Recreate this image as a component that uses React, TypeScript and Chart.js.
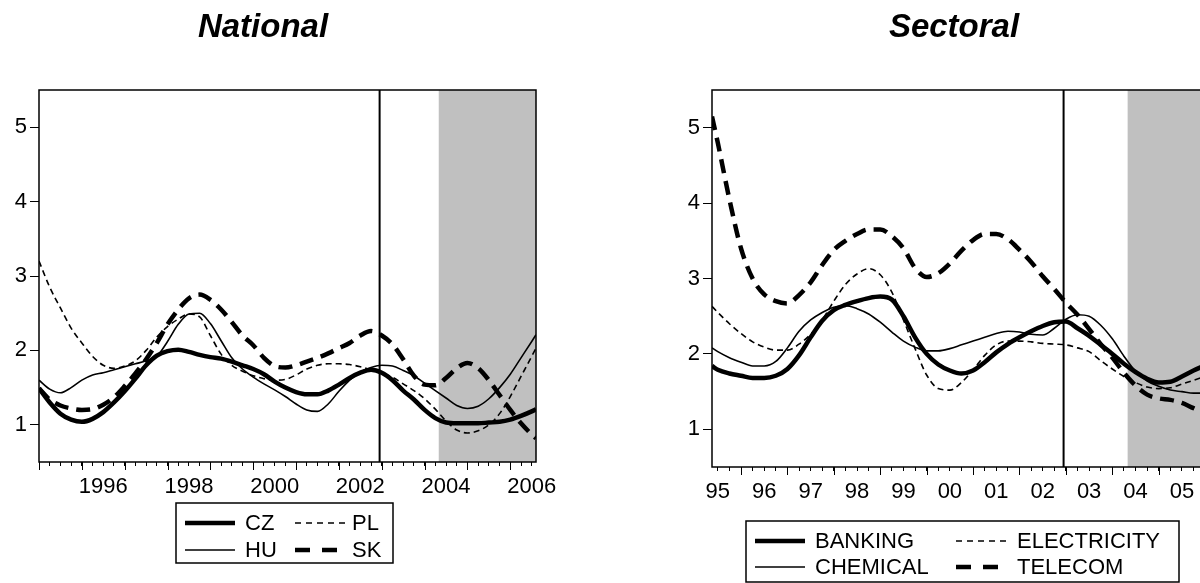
import { useEffect, useRef } from "react";
import { Chart, registerables } from "chart.js";

Chart.register(...registerables);

const FONT = "Arial, 'Liberation Sans', sans-serif";

// National panel: quarterly observations 1995-2006
const nationalYears = [
  1995, 1995.25, 1995.5, 1995.75, 1996, 1996.25, 1996.5, 1996.75,
  1997, 1997.25, 1997.5, 1997.75, 1998, 1998.25, 1998.5, 1998.75,
  1999, 1999.25, 1999.5, 1999.75, 2000, 2000.25, 2000.5, 2000.75,
  2001, 2001.25, 2001.5, 2001.75, 2002, 2002.25, 2002.5, 2002.75,
  2003, 2003.25, 2003.5, 2003.75, 2004, 2004.25, 2004.5, 2004.75,
  2005, 2005.25, 2005.5, 2005.75, 2006, 2006.25, 2006.5, 2006.6,
];
const cz = [
  1.49, 1.3, 1.15, 1.07, 1.04, 1.08, 1.17, 1.3,
  1.45, 1.62, 1.8, 1.93, 1.99, 2.01, 1.98, 1.94,
  1.91, 1.89, 1.85, 1.8, 1.75, 1.68, 1.58, 1.5,
  1.44, 1.41, 1.41, 1.46, 1.54, 1.63, 1.7, 1.74,
  1.7, 1.6, 1.46, 1.34, 1.2, 1.09, 1.03, 1.02,
  1.02, 1.02, 1.03, 1.04, 1.07, 1.12, 1.18, 1.21,
];
const hu = [
  1.6, 1.48, 1.43, 1.5, 1.6, 1.67, 1.7, 1.74,
  1.78, 1.82, 1.86, 1.92, 2.12, 2.35, 2.49, 2.5,
  2.36, 2.13, 1.9, 1.75, 1.64, 1.55, 1.47, 1.38,
  1.28, 1.2, 1.18, 1.28, 1.45, 1.6, 1.71, 1.77,
  1.8, 1.79, 1.73, 1.66, 1.56, 1.46, 1.36, 1.26,
  1.22, 1.25, 1.35, 1.5, 1.68, 1.9, 2.12, 2.21,
];
const pl = [
  3.2, 2.85, 2.57, 2.3, 2.1, 1.92, 1.8, 1.76,
  1.79, 1.86, 2.0, 2.18, 2.32, 2.42, 2.49, 2.45,
  2.2, 1.95, 1.8, 1.72, 1.66, 1.62, 1.6, 1.61,
  1.67, 1.75, 1.8, 1.82, 1.82, 1.81, 1.78, 1.74,
  1.7, 1.64, 1.55, 1.46, 1.35, 1.21, 1.05, 0.93,
  0.89, 0.92, 1.0, 1.15, 1.38, 1.65, 1.92, 2.03,
];
const sk = [
  1.49, 1.34, 1.26, 1.22, 1.2, 1.21, 1.27, 1.37,
  1.52, 1.69, 1.88, 2.1, 2.35, 2.55, 2.7, 2.75,
  2.68, 2.55, 2.38, 2.2, 2.07, 1.9, 1.79, 1.77,
  1.8, 1.85, 1.9, 1.96, 2.03, 2.1, 2.2, 2.26,
  2.2, 2.08, 1.88, 1.66, 1.54, 1.53, 1.63, 1.76,
  1.83, 1.76, 1.6, 1.4, 1.2, 1.02, 0.87, 0.82,
];
const nationalNames = ["CZ", "HU", "PL", "SK"];
const nationalLabelYears = [1996, 1998, 2000, 2002, 2004, 2006];
const nationalLabels = ["1996", "1998", "2000", "2002", "2004", "2006"];

// Sectoral panel
const sectoralYears = [
  1995.375, 1995.5, 1995.75, 1996, 1996.25, 1996.5, 1996.75,
  1997, 1997.25, 1997.5, 1997.75, 1998, 1998.25, 1998.5, 1998.75,
  1999, 1999.25, 1999.5, 1999.75, 2000, 2000.25, 2000.5, 2000.75,
  2001, 2001.25, 2001.5, 2001.75, 2002, 2002.25, 2002.5, 2002.75,
  2003, 2003.25, 2003.5, 2003.75, 2004, 2004.25, 2004.5, 2004.75,
  2005, 2005.25, 2005.5, 2005.75, 2006, 2006.25, 2006.5, 2006.6,
];
const banking = [
  1.84, 1.79, 1.74, 1.71, 1.68, 1.68, 1.71,
  1.8, 1.98, 2.22, 2.44, 2.58, 2.65, 2.7, 2.74,
  2.76, 2.72, 2.5, 2.22, 2.0, 1.86, 1.78, 1.74,
  1.78, 1.89, 2.02, 2.13, 2.22, 2.3, 2.37, 2.42,
  2.43, 2.34, 2.24, 2.12, 2.0, 1.87, 1.76, 1.67,
  1.62, 1.63, 1.7, 1.78, 1.85, 1.93, 2.0, 2.03,
];
const chemical = [
  2.08, 2.03, 1.95, 1.89, 1.84, 1.84, 1.9,
  2.08, 2.3, 2.45, 2.55, 2.62, 2.64, 2.6, 2.53,
  2.42, 2.29, 2.17, 2.09, 2.04, 2.04, 2.07, 2.12,
  2.17, 2.22, 2.27, 2.3, 2.29, 2.26, 2.25, 2.34,
  2.46, 2.52, 2.5, 2.38, 2.2, 1.97, 1.77, 1.64,
  1.57, 1.52, 1.5, 1.48, 1.48, 1.5, 1.53, 1.54,
];
const electricity = [
  2.63, 2.55, 2.4, 2.27, 2.16, 2.09, 2.05,
  2.05, 2.13, 2.26, 2.45, 2.7, 2.92, 3.06, 3.13,
  3.05, 2.82, 2.45, 2.07, 1.72, 1.54, 1.52, 1.62,
  1.79, 1.98, 2.12, 2.17, 2.17, 2.16, 2.14, 2.13,
  2.12, 2.08, 2.03, 1.91, 1.8, 1.7, 1.62, 1.56,
  1.54, 1.55, 1.6, 1.65, 1.7, 1.74, 1.78, 1.8,
];
const telecom = [
  5.15, 4.8, 4.05, 3.4, 3.0, 2.79, 2.7,
  2.67, 2.78, 2.95, 3.18, 3.38, 3.5, 3.59, 3.65,
  3.65, 3.56, 3.4, 3.14, 3.02, 3.07, 3.2, 3.37,
  3.51, 3.59, 3.59, 3.52, 3.38, 3.22, 3.03, 2.86,
  2.68, 2.52, 2.33, 2.13, 1.95, 1.75, 1.58, 1.46,
  1.41, 1.39, 1.35, 1.28, 1.22, 1.16, 1.1, 1.08,
];
const sectoralNames = ["BANKING", "CHEMICAL", "ELECTRICITY", "TELECOM"];
const sectoralLabelYears = [1995, 1996, 1997, 1998, 1999, 2000, 2001, 2002, 2003, 2004, 2005, 2006];
const sectoralLabels = ["95", "96", "97", "98", "99", "00", "01", "02", "03", "04", "05", "06"];

const yTicks = [1, 2, 3, 4, 5];
const breakYear = 2002.95;
const shadeFrom = 2004.33;

// thick solid, thin solid, thin dashed, thick dashed
const lineStyles = [
  { width: 4.5, dash: [] as number[], legendDash: [] as number[], legendLen: 50 },
  { width: 1.6, dash: [] as number[], legendDash: [] as number[], legendLen: 50 },
  { width: 1.6, dash: [6, 4], legendDash: [6, 5], legendLen: 50 },
  { width: 4.5, dash: [14, 8], legendDash: [15, 12], legendLen: 42 },
];

const decorPlugin = {
  id: "decor",
  beforeDatasetsDraw(chart: any, _args: any, opts: any) {
    const { ctx, chartArea: a } = chart;
    const x = chart.scales.x;
    ctx.save();
    const s0 = x.getPixelForValue(opts.shadeFrom);
    ctx.fillStyle = "#c0c0c0";
    ctx.fillRect(s0, a.top, a.right - s0, a.bottom - a.top);
    const v = x.getPixelForValue(opts.breakAt);
    ctx.strokeStyle = "#000";
    ctx.lineWidth = 2;
    ctx.beginPath();
    ctx.moveTo(v, a.top);
    ctx.lineTo(v, a.bottom);
    ctx.stroke();
    ctx.restore();
  },
  afterDraw(chart: any, _args: any, opts: any) {
    const { ctx, chartArea: a } = chart;
    const x = chart.scales.x;
    ctx.save();
    ctx.strokeStyle = "#000";
    ctx.lineWidth = 1.5;
    ctx.strokeRect(a.left, a.top, a.right - a.left, a.bottom - a.top);

    // longer marks at the start of each year
    ctx.lineWidth = 1;
    for (let yr = Math.ceil(x.min); yr <= x.max; yr++) {
      const px = Math.round(x.getPixelForValue(yr)) + 0.5;
      ctx.beginPath();
      ctx.moveTo(px, a.bottom);
      ctx.lineTo(px, a.bottom + 8);
      ctx.stroke();
    }

    ctx.fillStyle = "#000";
    ctx.font = `italic bold 33px ${FONT}`;
    ctx.textAlign = "center";
    ctx.textBaseline = "alphabetic";
    ctx.fillText(opts.title, opts.titleX, 37);

    const lg = opts.legend;
    ctx.lineWidth = 1.5;
    ctx.strokeRect(lg.x, lg.y, lg.w, lg.h);
    ctx.font = `22px ${FONT}`;
    ctx.textAlign = "left";
    ctx.textBaseline = "middle";
    chart.data.datasets.forEach((ds: any, i: number) => {
      const col = Math.floor(i / 2);
      const row = i % 2;
      const st = lineStyles[i];
      const y = lg.rows[row];
      ctx.lineWidth = st.width;
      ctx.setLineDash(st.legendDash);
      ctx.beginPath();
      ctx.moveTo(lg.sampleX[col], y);
      ctx.lineTo(lg.sampleX[col] + st.legendLen, y);
      ctx.stroke();
      ctx.setLineDash([]);
      ctx.fillText(ds.label, lg.textX[col], y + 1);
    });
    ctx.restore();
  },
};

type PanelProps = {
  names: string[];
  years: number[];
  series: number[][];
  labelYears: number[];
  labels: string[];
  xMin: number;
  xMax: number;
  width: number;
  left: number;
  padding: { left: number; right: number; top: number; bottom: number };
  title: string;
  titleX: number;
  legend: any;
};

function Panel(p: PanelProps) {
  const canvasRef = useRef<HTMLCanvasElement | null>(null);

  useEffect(() => {
    if (!canvasRef.current) return;
    const quarters: number[] = [];
    for (let q = Math.ceil(p.xMin * 4); q <= Math.floor(p.xMax * 4); q++) quarters.push(q / 4);

    const chart = new Chart(canvasRef.current, {
      type: "line",
      data: {
        datasets: p.names.map((name, i) => ({
          label: name,
          data: p.years.map((yr, j) => ({ x: yr, y: p.series[i][j] })),
          borderColor: "#000",
          borderWidth: lineStyles[i].width,
          borderDash: lineStyles[i].dash,
          borderCapStyle: "butt",
          pointRadius: 0,
          cubicInterpolationMode: "monotone",
          fill: false,
        })),
      },
      options: {
        animation: false,
        responsive: false,
        events: [],
        layout: { padding: p.padding },
        plugins: {
          legend: { display: false },
          tooltip: { enabled: false },
          decor: {
            title: p.title,
            titleX: p.titleX,
            legend: p.legend,
            breakAt: breakYear,
            shadeFrom: shadeFrom,
          },
        } as any,
        scales: {
          x: {
            type: "linear",
            min: p.xMin,
            max: p.xMax,
            afterBuildTicks: (s: any) => {
              s.ticks = quarters.map((v) => ({ value: v }));
            },
            afterFit: (s: any) => {
              s.height = 40;
            },
            grid: { drawOnChartArea: false, tickLength: 4, color: "#000", lineWidth: 1 },
            border: { display: false },
            ticks: {
              autoSkip: false,
              maxRotation: 0,
              minRotation: 0,
              padding: 8,
              color: "#000",
              font: { family: FONT, size: 22 },
              callback: (v: any) => {
                const i = p.labelYears.indexOf(Number(v) - 0.5);
                return i >= 0 ? p.labels[i] : "";
              },
            },
          },
          y: {
            min: 0.5,
            max: 5.5,
            afterBuildTicks: (s: any) => {
              s.ticks = yTicks.map((v) => ({ value: v }));
            },
            afterFit: (s: any) => {
              s.width = 30;
            },
            grid: { drawOnChartArea: false, tickLength: 9, color: "#000", lineWidth: 1 },
            border: { display: false },
            ticks: {
              padding: 3,
              color: "#000",
              font: { family: FONT, size: 22 },
            },
          },
        },
      },
      plugins: [decorPlugin],
    });

    return () => {
      chart.destroy();
    };
  }, []);

  return (
    <canvas
      ref={canvasRef}
      width={p.width}
      height={583}
      style={{ position: "absolute", left: p.left, top: 0 }}
    />
  );
}

export default function App() {
  useEffect(() => {
    document.body.style.margin = "0";
    document.body.style.overflow = "hidden";
  }, []);

  return (
    <div style={{ position: "relative", width: 1200, height: 583, overflow: "hidden", background: "#fff" }}>
      <Panel
        names={nationalNames}
        years={nationalYears}
        series={[cz, hu, pl, sk]}
        labelYears={nationalLabelYears}
        labels={nationalLabels}
        xMin={1995}
        xMax={2006.6}
        width={600}
        left={0}
        padding={{ left: 9, right: 64, top: 90, bottom: 81 }}
        title="National"
        titleX={263}
        legend={{ x: 176, y: 503, w: 217, h: 60, rows: [523, 550], sampleX: [185, 295], textX: [245, 352] }}
      />
      <Panel
        names={sectoralNames}
        years={sectoralYears}
        series={[banking, chemical, electricity, telecom]}
        labelYears={sectoralLabelYears}
        labels={sectoralLabels}
        xMin={1995.375}
        xMax={2006.6}
        width={640}
        left={640}
        padding={{ left: 42, right: 47, top: 90, bottom: 76 }}
        title="Sectoral"
        titleX={314}
        legend={{ x: 106, y: 521, w: 433, h: 61, rows: [541, 567], sampleX: [115, 316], textX: [175, 377] }}
      />
    </div>
  );
}
